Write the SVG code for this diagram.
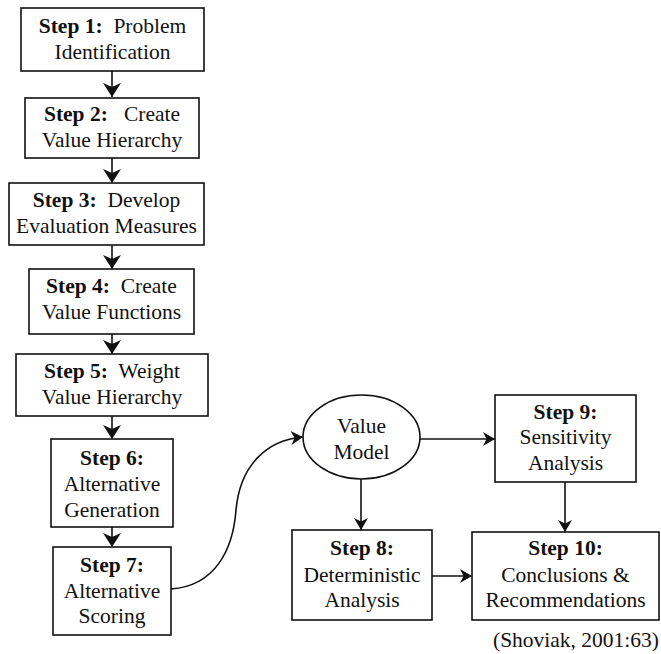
<svg xmlns="http://www.w3.org/2000/svg" width="661" height="654" viewBox="0 0 661 654">
<style>
  .box { fill: #fff; stroke: #111; stroke-width: 1.6; }
  text { font-family: 'Liberation Serif', 'DejaVu Serif', 'Times New Roman', serif; font-size: 21.5px; fill: #111; text-anchor: middle; white-space: pre; }
  .b { font-weight: bold; }
  .c { fill: none; stroke: #111; stroke-width: 1.6; }
  .big { marker-end: url(#ahBig); }
  .sm { marker-end: url(#ahSm); }
</style>
<defs>
  <marker id="ahBig" markerUnits="userSpaceOnUse" markerWidth="20" markerHeight="20" viewBox="-15 -10 16 20" refX="0" refY="0" orient="auto">
    <path d="M0,0 L-14,-9 L-10,0 L-14,9 Z" fill="#111"/>
  </marker>
  <marker id="ahSm" markerUnits="userSpaceOnUse" markerWidth="16" markerHeight="16" viewBox="-13 -8 14 16" refX="0" refY="0" orient="auto">
    <path d="M0,0 L-12,-7 L-8.5,0 L-12,7 Z" fill="#111"/>
  </marker>
</defs>
<rect width="661" height="654" fill="#fff"/>

<g id="connectors">
  <line class="c big" x1="112" y1="71" x2="112" y2="97"/>
  <line class="c big" x1="112" y1="158" x2="112" y2="183"/>
  <line class="c big" x1="112" y1="245" x2="112" y2="269"/>
  <line class="c big" x1="112" y1="334" x2="112" y2="354"/>
  <line class="c big" x1="112" y1="416" x2="112" y2="439"/>
  <line class="c big" x1="112" y1="527" x2="112" y2="547"/>
  <path class="c sm" d="M171,589 C215,586 233,550 236,510 C240,466 266,440 303,437"/>
  <line class="c sm" x1="420" y1="439" x2="495" y2="439"/>
  <line class="c sm" x1="361" y1="479" x2="361" y2="530"/>
  <line class="c sm" x1="565" y1="482" x2="565" y2="532"/>
  <line class="c sm" x1="432" y1="576" x2="472" y2="576"/>
</g>

<g id="step1">
  <rect class="box" x="21" y="8" width="183" height="63"/>
  <text x="112.5" y="33"><tspan class="b">Step 1:</tspan>  Problem</text>
  <text x="112.5" y="59">Identification</text>
</g>
<g id="step2">
  <rect class="box" x="25" y="98" width="174" height="60"/>
  <text x="112" y="121"><tspan class="b">Step 2:</tspan>   Create</text>
  <text x="112" y="147">Value Hierarchy</text>
</g>
<g id="step3">
  <rect class="box" x="9" y="183" width="195" height="62"/>
  <text x="106.5" y="207"><tspan class="b">Step 3:</tspan>  Develop</text>
  <text x="106.5" y="233">Evaluation Measures</text>
</g>
<g id="step4">
  <rect class="box" x="29" y="269" width="165" height="65"/>
  <text x="111.5" y="293"><tspan class="b">Step 4:</tspan>  Create</text>
  <text x="111.5" y="319">Value Functions</text>
</g>
<g id="step5">
  <rect class="box" x="16" y="354" width="192" height="62"/>
  <text x="112" y="378"><tspan class="b">Step 5:</tspan>  Weight</text>
  <text x="112" y="404">Value Hierarchy</text>
</g>
<g id="step6">
  <rect class="box" x="51" y="439" width="122" height="88"/>
  <text class="b" x="112" y="465">Step 6:</text>
  <text x="112" y="491">Alternative</text>
  <text x="112" y="517">Generation</text>
</g>
<g id="step7">
  <rect class="box" x="53" y="547" width="118" height="88"/>
  <text class="b" x="112" y="572">Step 7:</text>
  <text x="112" y="598">Alternative</text>
  <text x="112" y="623">Scoring</text>
</g>
<g id="valueModel">
  <ellipse class="box" cx="361.5" cy="437" rx="58.5" ry="42"/>
  <text x="361.5" y="433">Value</text>
  <text x="361.5" y="459">Model</text>
</g>
<g id="step9">
  <rect class="box" x="495" y="395" width="141" height="87"/>
  <text class="b" x="565.5" y="419">Step 9:</text>
  <text x="565.5" y="444">Sensitivity</text>
  <text x="565.5" y="470">Analysis</text>
</g>
<g id="step8">
  <rect class="box" x="292" y="530" width="140" height="90"/>
  <text class="b" x="362" y="555">Step 8:</text>
  <text x="362" y="582">Deterministic</text>
  <text x="362" y="607">Analysis</text>
</g>
<g id="step10">
  <rect class="box" x="472" y="532" width="187" height="88"/>
  <text class="b" x="565.5" y="555">Step 10:</text>
  <text x="565.5" y="582">Conclusions &amp;</text>
  <text x="565.5" y="607">Recommendations</text>
</g>
<text x="659" y="647" style="text-anchor:end">(Shoviak, 2001:63)</text>
</svg>
